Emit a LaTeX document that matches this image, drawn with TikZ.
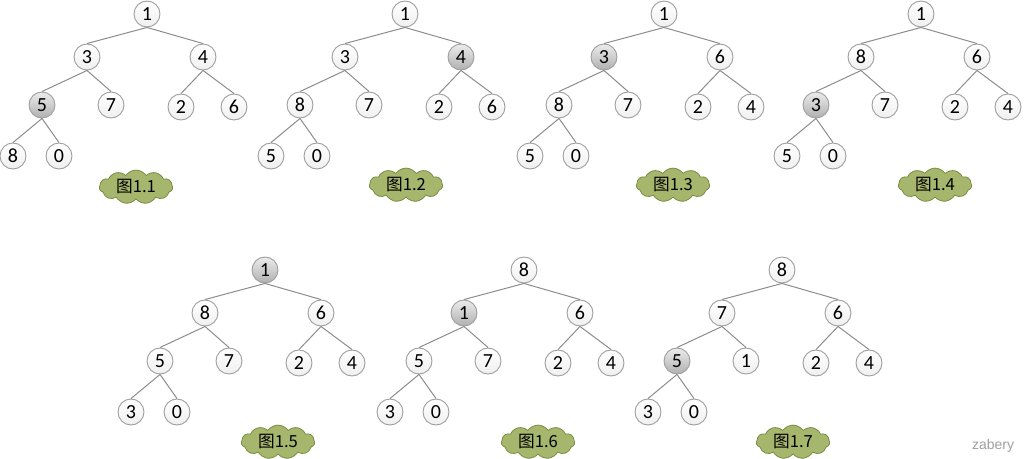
\documentclass[tikz,border=0pt]{standalone}
\usepackage{fontspec}
\setmainfont{Carlito}
\newfontfamily\cjk{Noto Sans CJK SC}
\newfontfamily\markfont{Liberation Sans}
\usetikzlibrary{shapes.symbols}

\begin{document}
\begin{tikzpicture}[x=0.75pt,y=-0.75pt,
  num/.style={circle,draw=gray!75,line width=0.7pt,minimum size=19.5pt,inner sep=0pt,
    top color=white,bottom color=gray!12,font=\fontsize{15}{15}\selectfont},
  hot/.style={num,top color=gray!15,bottom color=gray!62},
  link/.style={draw=gray!90,line width=0.75pt},
  tag/.style={cloud,cloud puffs=11,cloud puff arc=110,aspect=2.9,draw=leafdark,fill=leaf,
    line width=0.6pt,minimum width=55pt,minimum height=20pt,inner sep=1pt,
    font=\fontsize{12.5}{12.5}\selectfont}]
% Define colours
\definecolor{leaf}{RGB}{166,182,108}
\definecolor{leafdark}{RGB}{120,142,66}
\useasboundingbox (0,0) rectangle (1024,459);

% Tree 1.1
\begin{scope}[shift={(147,14)}]
\node[num] (at) at (0,0) {1};
\node[num] (al) at (-60,43) {3};
\node[num] (ar) at (56,43) {4};
\node[hot] (all) at (-105,91) {5};
\node[num] (alr) at (-36,91) {7};
\node[num] (arl) at (34,93) {2};
\node[num] (arr) at (87,93) {6};
\node[num] (alll) at (-134,142) {8};
\node[num] (allr) at (-88,142) {0};
\end{scope}
\draw[link] (at.south) -- (al.north) (at.south) -- (ar.north)
  (al.south) -- (all.north) (al.south) -- (alr.north)
  (ar.south) -- (arl.north) (ar.south) -- (arr.north)
  (all.south) -- (alll.north) (all.south) -- (allr.north);
\node[tag] (acap) at (136,187) {\cjk{图}1.1};

% Tree 1.2
\begin{scope}[shift={(405,14)}]
\node[num] (bt) at (0,0) {1};
\node[num] (bl) at (-60,43) {3};
\node[hot] (br) at (56,43) {4};
\node[num] (bll) at (-105,91) {8};
\node[num] (blr) at (-36,91) {7};
\node[num] (brl) at (34,93) {2};
\node[num] (brr) at (87,93) {6};
\node[num] (blll) at (-134,142) {5};
\node[num] (bllr) at (-88,142) {0};
\end{scope}
\draw[link] (bt.south) -- (bl.north) (bt.south) -- (br.north)
  (bl.south) -- (bll.north) (bl.south) -- (blr.north)
  (br.south) -- (brl.north) (br.south) -- (brr.north)
  (bll.south) -- (blll.north) (bll.south) -- (bllr.north);
\node[tag] (bcap) at (406,185) {\cjk{图}1.2};

% Tree 1.3
\begin{scope}[shift={(664,14)}]
\node[num] (ct) at (0,0) {1};
\node[hot] (cl) at (-60,43) {3};
\node[num] (cr) at (56,43) {6};
\node[num] (cll) at (-105,91) {8};
\node[num] (clr) at (-36,91) {7};
\node[num] (crl) at (34,93) {2};
\node[num] (crr) at (87,93) {4};
\node[num] (clll) at (-134,142) {5};
\node[num] (cllr) at (-88,142) {0};
\end{scope}
\draw[link] (ct.south) -- (cl.north) (ct.south) -- (cr.north)
  (cl.south) -- (cll.north) (cl.south) -- (clr.north)
  (cr.south) -- (crl.north) (cr.south) -- (crr.north)
  (cll.south) -- (clll.north) (cll.south) -- (cllr.north);
\node[tag] (ccap) at (673,185) {\cjk{图}1.3};

% Tree 1.4
\begin{scope}[shift={(921,14)}]
\node[num] (dt) at (0,0) {1};
\node[num] (dl) at (-60,43) {8};
\node[num] (dr) at (56,43) {6};
\node[hot] (dll) at (-105,91) {3};
\node[num] (dlr) at (-36,91) {7};
\node[num] (drl) at (34,93) {2};
\node[num] (drr) at (87,93) {4};
\node[num] (dlll) at (-134,142) {5};
\node[num] (dllr) at (-88,142) {0};
\end{scope}
\draw[link] (dt.south) -- (dl.north) (dt.south) -- (dr.north)
  (dl.south) -- (dll.north) (dl.south) -- (dlr.north)
  (dr.south) -- (drl.north) (dr.south) -- (drr.north)
  (dll.south) -- (dlll.north) (dll.south) -- (dllr.north);
\node[tag] (dcap) at (935,185) {\cjk{图}1.4};

% Tree 1.5
\begin{scope}[shift={(265,270)}]
\node[hot] (et) at (0,0) {1};
\node[num] (el) at (-60,43) {8};
\node[num] (er) at (56,43) {6};
\node[num] (ell) at (-105,91) {5};
\node[num] (elr) at (-36,91) {7};
\node[num] (erl) at (34,93) {2};
\node[num] (err) at (87,93) {4};
\node[num] (elll) at (-134,142) {3};
\node[num] (ellr) at (-88,142) {0};
\end{scope}
\draw[link] (et.south) -- (el.north) (et.south) -- (er.north)
  (el.south) -- (ell.north) (el.south) -- (elr.north)
  (er.south) -- (erl.north) (er.south) -- (err.north)
  (ell.south) -- (elll.north) (ell.south) -- (ellr.north);
\node[tag] (ecap) at (278,442) {\cjk{图}1.5};

% Tree 1.6
\begin{scope}[shift={(524,270)}]
\node[num] (ft) at (0,0) {8};
\node[hot] (fl) at (-60,43) {1};
\node[num] (fr) at (56,43) {6};
\node[num] (fll) at (-105,91) {5};
\node[num] (flr) at (-36,91) {7};
\node[num] (frl) at (34,93) {2};
\node[num] (frr) at (87,93) {4};
\node[num] (flll) at (-134,142) {3};
\node[num] (fllr) at (-88,142) {0};
\end{scope}
\draw[link] (ft.south) -- (fl.north) (ft.south) -- (fr.north)
  (fl.south) -- (fll.north) (fl.south) -- (flr.north)
  (fr.south) -- (frl.north) (fr.south) -- (frr.north)
  (fll.south) -- (flll.north) (fll.south) -- (fllr.north);
\node[tag] (fcap) at (538,442) {\cjk{图}1.6};

% Tree 1.7
\begin{scope}[shift={(782,270)}]
\node[num] (gt) at (0,0) {8};
\node[num] (gl) at (-60,43) {7};
\node[num] (gr) at (56,43) {6};
\node[hot] (gll) at (-105,91) {5};
\node[num] (glr) at (-36,91) {1};
\node[num] (grl) at (34,93) {2};
\node[num] (grr) at (87,93) {4};
\node[num] (glll) at (-134,142) {3};
\node[num] (gllr) at (-88,142) {0};
\end{scope}
\draw[link] (gt.south) -- (gl.north) (gt.south) -- (gr.north)
  (gl.south) -- (gll.north) (gl.south) -- (glr.north)
  (gr.south) -- (grl.north) (gr.south) -- (grr.north)
  (gll.south) -- (glll.north) (gll.south) -- (gllr.north);
\node[tag] (gcap) at (793,442) {\cjk{图}1.7};

% Watermark
\node[text=gray!75,font=\markfont\fontsize{10.5}{10.5}\selectfont] (mark) at (993,446) {zabery};
\end{tikzpicture}
\end{document}
